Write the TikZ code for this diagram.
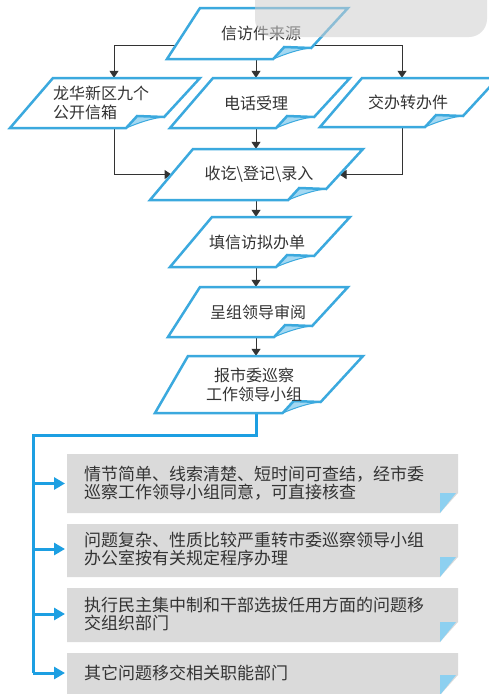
\documentclass[tikz,border=0pt]{standalone}
\usepackage{fontspec}
\setmainfont{Noto Sans CJK SC}
\usetikzlibrary{arrows.meta}
\pgfdeclarelayer{bg}
\pgfsetlayers{bg,main}
\definecolor{docblue}{HTML}{3BA9DE}
\definecolor{curlblue}{HTML}{A3D8F2}
\definecolor{lineblue}{HTML}{1D9FE2}
\definecolor{boxgray}{HTML}{DADADA}
\definecolor{foldblue}{HTML}{8DD0F0}
\definecolor{txt}{HTML}{333333}
\definecolor{conn}{HTML}{333333}
\definecolor{artgray}{HTML}{CFCFCF}

\tikzset{
  docline/.style={draw=docblue, line width=2.5pt, line join=miter},
  flowtxt/.style={inner sep=0pt, font=\fontsize{16}{19}\selectfont, text=txt},
  gtxt/.style={inner xsep=17pt, inner ysep=0pt, text width=357pt, align=left,
    font=\fontsize{17}{18}\selectfont, text=txt},
  arr/.style={draw=conn, line width=1pt, -{Triangle[length=7pt,width=9pt]}},
  trunk/.style={draw=lineblue, line width=3pt, line join=miter},
  barr/.style={draw=lineblue, line width=3pt, -{Triangle[length=11pt,width=12pt]}, shorten >=2pt}
}

\newcommand\docshape[6]{%
  \pgfmathsetmacro\dsR{#2+#4}%
  \pgfmathsetmacro\dsB{#3+#5}%
  \pgfmathsetmacro\dsBL{#2-#6}%
  \pgfmathsetmacro\dsPy{#3+#5-11}%
  \pgfmathsetmacro\dsPx{#2+#4-0.92*(#5-11)}%
  \pgfmathsetmacro\dsQx{\dsPx-27}%
  \pgfmathsetmacro\dsQy{\dsPy-1}%
  \pgfmathsetmacro\dsRx{\dsPx-38}%
  \pgfmathsetmacro\dsMy{#3+#5/2}%
  \pgfmathsetmacro\dsWx{#2-#6/2}%
  \pgfmathsetmacro\dsEx{#2+#4-0.92*#5/2}%
  \fill[white] (#2,#3) -- (\dsR,#3) -- (\dsPx,\dsPy) -- (\dsQx,\dsQy) -- (\dsRx,\dsB) -- (\dsBL,\dsB) -- cycle;
  \fill[curlblue] (\dsRx,\dsB) -- (\dsQx,\dsQy) -- (\dsPx,\dsPy) .. controls ({\dsPx-12},{\dsPy+1}) and ({\dsRx+12},{\dsB-5}) .. (\dsRx,\dsB) -- cycle;
  \draw[docblue, line width=1pt] (\dsPx,\dsPy) .. controls ({\dsPx-12},{\dsPy+1}) and ({\dsRx+12},{\dsB-5}) .. (\dsRx,\dsB);
  \draw[docline] (#2,#3) -- (\dsR,#3) -- (\dsPx,\dsPy) -- (\dsQx,\dsQy) -- (\dsRx,\dsB) -- (\dsBL,\dsB) -- cycle;
  \coordinate (#1-w) at (\dsWx,\dsMy);
  \coordinate (#1-e) at (\dsEx,\dsMy);
}

\newcommand\grayshape[2]{%
  \fill[boxgray] (67,#1) -- (458,#1) -- (458,{#2-20}) -- (440,#2) -- (67,#2) -- cycle;
  \fill[foldblue] (440,{#2-20}) -- (456,{#2-20}) -- (440,#2) -- cycle;
}

\begin{document}
\begin{tikzpicture}[x=1pt,y=-1pt]
\useasboundingbox (0,0) rectangle (489,694);
\clip (0,0) rectangle (489,694);

\coordinate (colL) at (114,0);
\coordinate (colM) at (256,0);
\coordinate (colR) at (402,0);
\coordinate (trunkC) at (33,435);

% flow boxes
\docshape{s1}{200}{8}{148}{51}{33}
\node[flowtxt, minimum height=51pt] (b1) at (261,33.5) {信访件来源};

\docshape{s2}{53}{78}{147}{50}{43}
\node[flowtxt, minimum height=50pt, align=left] (b2) at (101,103) {龙华新区九个\\公开信箱};

\docshape{s3}{213}{78}{137}{50}{43}
\node[flowtxt, minimum height=50pt] (b3) at (256,103) {电话受理};

\docshape{s4}{362}{78}{136}{49}{42}
\node[flowtxt, minimum height=49pt] (b4) at (408,102.5) {交办转办件};

\docshape{s5}{193}{149}{170}{51}{43}
\node[flowtxt, minimum height=51pt] (b5) at (259,174.5) {收讫\textbackslash 登记\textbackslash 录入};

\docshape{s6}{212}{217}{138}{50}{42}
\node[flowtxt, minimum height=50pt] (b6) at (257,242) {填信访拟办单};

\docshape{s7}{200}{287}{148}{50}{32}
\node[flowtxt, minimum height=50pt] (b7) at (258,312) {呈组领导审阅};

\docshape{s8}{188}{356}{175}{57}{33}
\node[flowtxt, minimum height=57pt, align=center] (b8) at (254,384.5) {报市委巡察\\工作领导小组};

% gray boxes
\grayshape{454}{513}
\node[gtxt, minimum height=59pt, anchor=west] (g1) at (67,483.5) {情节简单、线索清楚、短时间可查结，经市委\\巡察工作领导小组同意，可直接核查};
\grayshape{524}{577}
\node[gtxt, minimum height=53pt, anchor=west] (g2) at (67,549) {问题复杂、性质比较严重转市委巡察领导小组\\办公室按有关规定程序办理};
\grayshape{588}{642}
\node[gtxt, minimum height=54pt, anchor=west] (g3) at (67,614) {执行民主集中制和干部选拔任用方面的问题移\\交组织部门};
\grayshape{653}{695}
\node[gtxt, minimum height=42pt, anchor=west] (g4) at (67,673) {其它问题移交相关职能部门};

% connectors (behind the boxes)
\begin{pgfonlayer}{bg}
\fill[white] (0,0) rectangle (489,694);
\draw[arr] ([yshift=-11.5pt]b1.center) -| (b2.north -| colL);
\draw[arr] ([yshift=-11.5pt]b1.center) -| (b4.north -| colR);
\draw[arr] (b1.south -| colM) -- (b3.north -| colM);
\draw[arr] (b2.south -| colL) |- (s5-w);
\draw[arr] (b4.south -| colR) |- (s5-e);
\draw[arr] (b3.south -| colM) -- (b5.north -| colM);
\draw[arr] (b5.south -| colM) -- (b6.north -| colM);
\draw[arr] (b6.south -| colM) -- (b7.north -| colM);
\draw[arr] (b7.south -| colM) -- (b8.north -| colM);
\draw[trunk] (b8.south -| colM) |- (trunkC) -- (trunkC |- g4.west);
\end{pgfonlayer}
\draw[barr] (g1.west -| trunkC) -- (g1.west);
\draw[barr] (g2.west -| trunkC) -- (g2.west);
\draw[barr] (g3.west -| trunkC) -- (g3.west);
\draw[barr] (g4.west -| trunkC) -- (g4.west);

% top-right overlay
\fill[artgray, opacity=.55, rounded corners=18pt] (255,-30) rectangle (487,37);
\end{tikzpicture}
\end{document}
